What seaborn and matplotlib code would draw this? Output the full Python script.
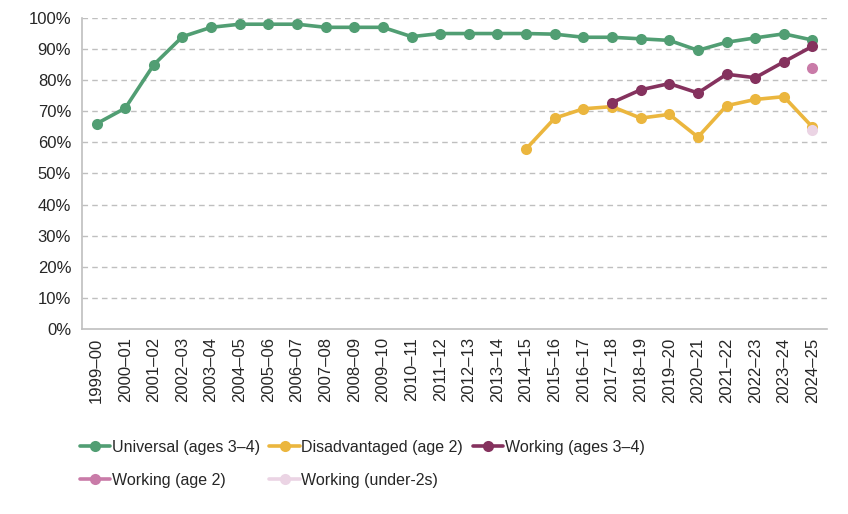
import numpy as np
import pandas as pd
import matplotlib
matplotlib.use("Agg")
import matplotlib.pyplot as plt
import seaborn as sns

years = ["1999–00", "2000–01", "2001–02", "2002–03", "2003–04", "2004–05", "2005–06",
         "2006–07", "2007–08", "2008–09", "2009–10", "2010–11", "2011–12", "2012–13",
         "2013–14", "2014–15", "2015–16", "2016–17", "2017–18", "2018–19", "2019–20",
         "2020–21", "2021–22", "2022–23", "2023–24", "2024–25"]

universal = [66, 71, 85, 94, 97, 98, 98, 98, 97, 97, 97, 94, 95, 95, 95, 95, 94.8,
             93.8, 93.8, 93.3, 92.8, 89.6, 92.2, 93.6, 94.9, 92.9]
disadvantaged_years = years[15:]
disadvantaged = [57.9, 67.8, 70.8, 71.5, 67.8, 69.0, 61.7, 71.8, 73.8, 74.7, 64.9]
working34_years = years[18:]
working34 = [72.8, 76.9, 78.9, 75.9, 81.9, 80.8, 85.9, 90.9]
working2_years = ["2024–25"]
working2 = [84.0]
under2_years = ["2024–25"]
under2 = [64.0]

series = [
    ("Universal (ages 3–4)", years, universal, "#519E73"),
    ("Disadvantaged (age 2)", disadvantaged_years, disadvantaged, "#EBB63E"),
    ("Working (ages 3–4)", working34_years, working34, "#85325E"),
    ("Working (age 2)", working2_years, working2, "#C97BA8"),
    ("Working (under-2s)", under2_years, under2, "#EBD4E4"),
]

sns.set_style("white")
plt.rcParams["font.family"] = ["Liberation Sans", "DejaVu Sans"]

fig = plt.figure(figsize=(8.48, 5.14), dpi=100)
ax = fig.add_axes([0.097, 0.36, 0.878, 0.605])

pos = {y: i for i, y in enumerate(years)}
for label, xs, vals, col in series:
    df = pd.DataFrame({"x": [pos[x] for x in xs], "y": vals})
    sns.lineplot(data=df, x="x", y="y", ax=ax, color=col, linewidth=2.6,
                 marker="o", markersize=8, markeredgewidth=0, label=label)

ax.set_xlim(-0.5, len(years) - 0.5)
ax.set_ylim(0, 100)
ax.set_yticks(np.arange(0, 101, 10))
ax.set_yticklabels([f"{v}%" for v in range(0, 101, 10)], fontsize=12)
ax.set_xticks(range(len(years)))
ax.set_xticklabels(years, rotation=90, fontsize=12)
ax.set_xticks(np.arange(-0.5, len(years), 1), minor=True)
ax.tick_params(axis="x", which="major", length=0, pad=6)
ax.tick_params(axis="x", which="minor", length=5, color="#BFBFBF", width=1)
ax.tick_params(axis="y", length=5, color="#BFBFBF", width=1, pad=3)
ax.set_xlabel("")
ax.set_ylabel("")

for v in range(10, 101, 10):
    ax.axhline(v, color="#BFBFBF", linewidth=1, linestyle=(0, (4, 3)), zorder=0)

for s in ["top", "right"]:
    ax.spines[s].set_visible(False)
for s in ["left", "bottom"]:
    ax.spines[s].set_color("#BFBFBF")
    ax.spines[s].set_linewidth(1.2)

h, l = ax.get_legend_handles_labels()
order = [0, 3, 1, 4, 2]
ax.legend([h[i] for i in order], [l[i] for i in order], ncol=3, frameon=False,
          loc="upper left", bbox_to_anchor=(-0.012, -0.335), fontsize=11.5,
          handlelength=1.9, handletextpad=0.1, columnspacing=0.6, labelspacing=1.15,
          borderaxespad=0)

fig.savefig("out.png", dpi=100)
